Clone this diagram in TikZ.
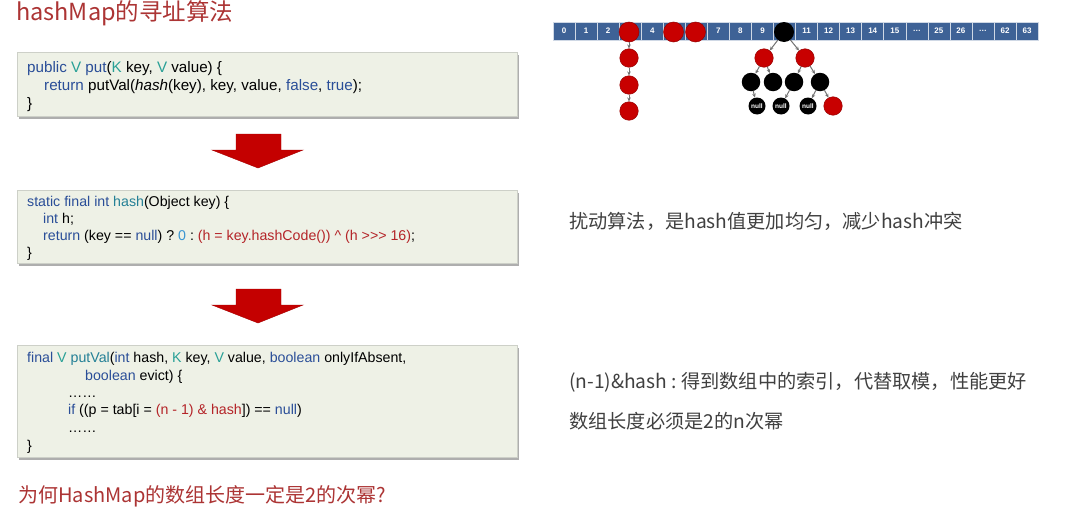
\documentclass[tikz,border=0pt]{standalone}
\usepackage{fontspec}
\setmainfont{Liberation Sans}
\newfontfamily\cjk{Noto Sans CJK SC}
\usetikzlibrary{arrows.meta,shadows}
\definecolor{codebg}{RGB}{238,241,230}
\definecolor{codeborder}{RGB}{205,208,200}
\definecolor{kwblue}{RGB}{42,78,152}
\definecolor{tyteal}{RGB}{40,160,150}
\definecolor{fnteal}{RGB}{36,128,150}
\definecolor{codered}{RGB}{180,36,40}
\definecolor{numblue}{RGB}{60,150,210}
\definecolor{arrblue}{RGB}{62,98,150}
\definecolor{rbred}{RGB}{200,0,0}
\definecolor{bigred}{RGB}{196,0,0}
\definecolor{titlered}{RGB}{172,52,52}
\definecolor{txtgray}{RGB}{64,64,64}
\newcommand\cKw[1]{{\color{kwblue}#1}}
\newcommand\cTy[1]{{\color{tyteal}#1}}
\newcommand\cFn[1]{{\color{fnteal}#1}}
\newcommand\cRd[1]{{\color{codered}#1}}
\newcommand\cNum[1]{{\color{numblue}#1}}
\tikzset{
  codebox/.style={draw=codeborder, fill=codebg, anchor=north west, minimum width=500pt, inner sep=0pt,
    drop shadow={shadow xshift=2pt, shadow yshift=-3pt, fill=black!45, opacity=0.7}},
  codeline/.style={anchor=base west, inner sep=0pt, font=\fontsize{14.2}{16}\selectfont\frenchspacing, text=black},
  bigline/.style={codeline, font=\fontsize{15.2}{17}\selectfont\frenchspacing},
  cell/.style={rectangle, fill=arrblue, draw=white!75!arrblue, line width=0.6pt, minimum width=22.05pt,
    minimum height=18pt, inner sep=0pt, text=white, font=\fontsize{8}{9}\selectfont\bfseries},
  rnode/.style={circle, fill=rbred, draw=rbred!75!black, line width=0.5pt, minimum size=18.5pt, inner sep=0pt},
  bnode/.style={circle, fill=black, minimum size=18.5pt, inner sep=0pt},
  nullnode/.style={circle, fill=black, minimum size=17pt, inner sep=0pt, text=white,
    font=\fontsize{6.5}{7}\selectfont\bfseries},
  link/.style={draw=black!55, line width=1pt, -{Stealth[length=4pt,width=3.5pt]}},
  bigarrow/.style={fill=bigred, draw=bigred!85!black, line width=0.4pt},
  note/.style={anchor=base west, inner sep=0pt, text=txtgray, font=\cjk\fontsize{19.2}{21}\selectfont\frenchspacing},
  heading/.style={anchor=base west, inner sep=0pt, text=titlered}
}
\begin{document}
\begin{tikzpicture}[x=1pt,y=-1pt]
\useasboundingbox (0,0) rectangle (1075,506);
\fill[white] (0,0) rectangle (1075,506);

% title
\node[heading, font=\cjk\fontsize{23.5}{26}\selectfont] (title) at (16,20) {hashMap的寻址算法};

% code box 1
\node[codebox, minimum height=64pt] (box1) at (17,52) {};
\node[bigline] (b1l1) at (27,72) {\cKw{public} \cTy{V} \cKw{put}(\cTy{K} key, \cTy{V} value) \{};
\node[bigline] (b1l2) at (44,90) {\cKw{return} putVal(\textit{hash}(key), key, value, \cKw{false}, \cKw{true});};
\node[bigline] (b1l3) at (27,108) {\}};

% arrow 1
\fill[bigarrow] (236,134) -- (281,134) -- (281,150) -- (303,150) -- (258,168) -- (212,150) -- (236,150) -- cycle;

% code box 2
\node[codebox, minimum height=73pt] (box2) at (17,190) {};
\node[codeline] (b2l1) at (27,206) {\cKw{static final int} \cFn{hash}(Object key) \{};
\node[codeline] (b2l2) at (43,223) {\cKw{int} h;};
\node[codeline] (b2l3) at (43,240) {\cKw{return} (key == \cKw{null}) ? \cNum{0} : \cRd{(h = key.hashCode()) \textasciicircum{} (h >{}>{}> 16)};};
\node[codeline] (b2l4) at (27,257) {\}};

% arrow 2
\fill[bigarrow] (236,289) -- (281,289) -- (281,305) -- (303,305) -- (258,323) -- (212,305) -- (236,305) -- cycle;

% code box 3
\node[codebox, minimum height=112pt] (box3) at (17,345) {};
\node[codeline] (b3l1) at (27,362) {\cKw{final} \cTy{V} \cFn{putVal}(\cKw{int} hash, \cTy{K} key, \cTy{V} value, \cKw{boolean} onlyIfAbsent,};
\node[codeline] (b3l2) at (85,380) {\cKw{boolean} evict) \{};
\node[codeline] (b3l3) at (68,397) {……};
\node[codeline] (b3l4) at (68,414) {\cKw{if} ((p = tab[i = \cRd{(n - 1) \& hash}]) == \cKw{null})};
\node[codeline] (b3l5) at (68,432) {……};
\node[codeline] (b3l6) at (27,450) {\}};

% notes
\node[note] (n1) at (569,228) {扰动算法，是hash值更加均匀，减少hash冲突};
\node[note] (n2) at (569,388) {(n-1)\&hash : 得到数组中的索引，代替取模，性能更好};
\node[note] (n3) at (569,428) {数组长度必须是2的n次幂};

% bottom question
\node[heading, font=\cjk\fontsize{20}{23}\selectfont] (q) at (18,502) {为何HashMap的数组长度一定是2的次幂?};

% array
\draw[arrblue!70!black, line width=0.6pt] (553,22) rectangle (1038.1,40);
\foreach \lab [count=\i from 0] in {0,1,2,,4,,,7,8,9,,11,12,13,14,15,{…},25,26,{…},62,63}
  \node[cell] (c\i) at ({553+(\i+0.5)*22.05},31) {\lab};

% chain at bucket 3
\node[rnode, minimum size=20pt] (a3) at (629,32) {};
\node[rnode] (ch1) at (629,58) {};
\node[rnode] (ch2) at (629,85) {};
\node[rnode] (ch3) at (629,111) {};
\draw[link] (a3) -- (ch1);
\draw[link] (ch1) -- (ch2);
\draw[link] (ch2) -- (ch3);

% buckets 5, 6
\node[rnode, minimum size=20pt] (a5) at (673.5,32) {};
\node[rnode, minimum size=20pt] (a6) at (695.5,32) {};

% tree at bucket 10
\node[bnode, minimum size=20pt] (root) at (784,32) {};
\node[rnode] (tl) at (764,58) {};
\node[rnode] (tr) at (805,58) {};
\node[bnode] (tll) at (751,82) {};
\node[bnode] (tlr) at (773,82) {};
\node[bnode] (trl) at (794,82) {};
\node[bnode] (trr) at (820,82) {};
\node[nullnode] (nl1) at (757,106) {null};
\node[nullnode] (nl2) at (781,106) {null};
\node[nullnode] (nl3) at (808,106) {null};
\node[rnode] (trrr) at (833,106) {};
\draw[link] (root) -- (tl);
\draw[link] (root) -- (tr);
\draw[link] (tl) -- (tll);
\draw[link] (tl) -- (tlr);
\draw[link] (tr) -- (trl);
\draw[link] (tr) -- (trr);
\draw[link] (tll) -- (nl1);
\draw[link] (trl) -- (nl2);
\draw[link] (trr) -- (nl3);
\draw[link] (trr) -- (trrr);
\end{tikzpicture}
\end{document}
